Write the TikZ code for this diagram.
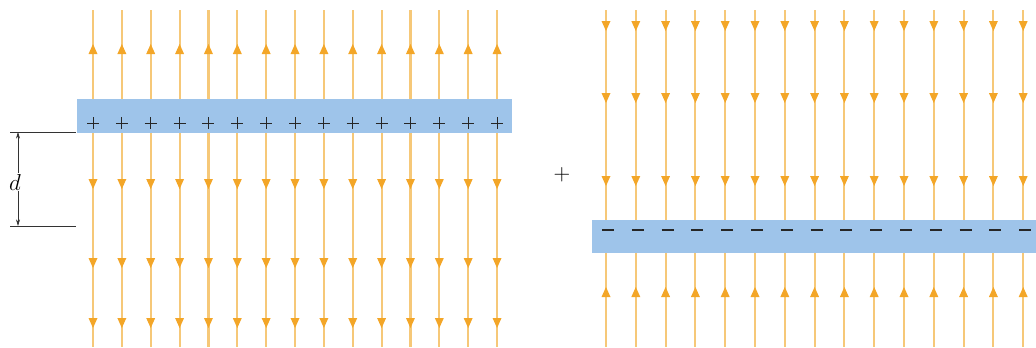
\documentclass[tikz,border=0pt]{standalone}
\usetikzlibrary{arrows.meta}
\definecolor{fieldline}{RGB}{246,200,120}
\definecolor{fieldarrow}{RGB}{243,166,40}
\definecolor{plate}{RGB}{158,196,234}
\tikzset{
  fline/.style={draw=fieldline, line width=1.6pt},
  plateband/.style={fill=plate, draw=none},
  dimline/.style={draw=black!80, line width=0.5pt},
  charge/.style={draw=black!85, line width=0.6pt},
}
\newcommand{\uparr}[2]{\fill[fieldarrow] (#1-4.5,#2+4) -- (#1,#2-6) -- (#1+4.5,#2+4) -- cycle;}
\newcommand{\dnarr}[2]{\fill[fieldarrow] (#1-4.5,#2-4) -- (#1,#2+6) -- (#1+4.5,#2-4) -- cycle;}
\begin{document}
\begin{tikzpicture}[x=0.75pt,y=-0.75pt]
\useasboundingbox (0,0) rectangle (1036,347);
% ---------- left panel: positive plate ----------
\foreach \i in {0,...,14}{
  \pgfmathsetmacro{\xx}{93+28.86*\i}
  \draw[fline] (\xx,10) -- (\xx,347);
  \uparr{\xx}{50}
  \dnarr{\xx}{183}
  \dnarr{\xx}{262}
  \dnarr{\xx}{322}
}
\node[plateband, minimum width=435*0.75pt, minimum height=34*0.75pt, inner sep=0pt, anchor=north west] (posplate) at (77,99) {};
\foreach \i in {0,...,14}{
  \pgfmathsetmacro{\xx}{93+28.86*\i}
  \draw[charge] (\xx-6,123) -- (\xx+6,123) (\xx,117) -- (\xx,129);
}
% dimension d
\coordinate (dtopL) at (10,132);
\coordinate (dtopR) at (76,132);
\coordinate (dbotL) at (10,226);
\coordinate (dbotR) at (76,226);
\draw[dimline] (dtopL) -- (dtopR);
\draw[dimline] (dbotL) -- (dbotR);
\coordinate (da) at (18,132);
\coordinate (db) at (18,226);
\draw[dimline, {Stealth[length=5pt,width=3pt]}-{Stealth[length=5pt,width=3pt]}] (da) -- (db);
\node[fill=white, inner sep=0.5pt, font=\fontsize{16}{16}\selectfont] (dlabel) at (15,182) {$d$};
% plus between panels
\node[font=\fontsize{17}{17}\selectfont] (plus) at (562,175) {$+$};
% ---------- right panel: negative plate ----------
\foreach \i in {0,...,14}{
  \pgfmathsetmacro{\xx}{606+29.8*\i}
  \draw[fline] (\xx,10) -- (\xx,347);
  \dnarr{\xx}{25}
  \dnarr{\xx}{97}
  \dnarr{\xx}{180}
  \uparr{\xx}{293}
}
\node[plateband, minimum width=444*0.75pt, minimum height=33*0.75pt, inner sep=0pt, anchor=north west] (negplate) at (592,220) {};
\foreach \i in {0,...,14}{
  \pgfmathsetmacro{\xx}{608+29.8*\i}
  \draw[charge, line width=0.9pt] (\xx-6,230) -- (\xx+6,230);
}
\end{tikzpicture}
\end{document}
